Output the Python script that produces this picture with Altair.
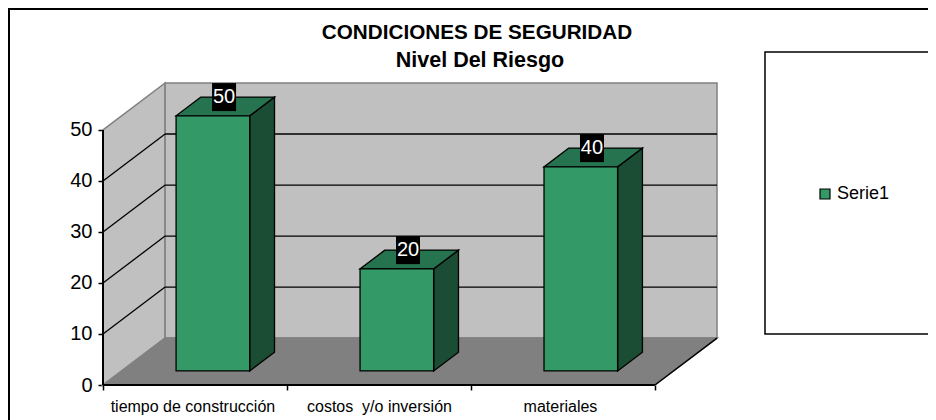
import altair as alt
import pandas as pd

categories = ["tiempo de construcción", "costos \u00a0y/o inversión", "materiales"]
category_label_positions = [0.486, 1.5, 2.484]
values = [50, 20, 40]
y_ticks = [0, 10, 20, 30, 40, 50]
series_name = "Serie1"
title_lines = ["CONDICIONES DE SEGURIDAD", "Nivel Del Riesgo"]

DX, DY = 0.3376, 9.2          # oblique shift of full chart depth, in axis units
GAP_W, BAR_W = 0.296, 0.4     # bar inset, in category widths
D0, D1 = 0.3, 0.7             # bar front and back, in depth fractions
FONT = "Liberation Sans"
FRONT, TOP, SIDE = "#339966", "#267350", "#1A4D33"
WALL, FLOOR, EDGE = "#C0C0C0", "#808080", "#808080"

xs = alt.Scale(domain=[0, 3 + DX], nice=False, zero=False)
ys = alt.Scale(domain=[0, 50 + DY], nice=False, zero=False)

edge_ticks = list(range(len(categories) + 1))
expr = " : ".join(
    f"datum.value == {m} ? '{c}'" for m, c in zip(category_label_positions, categories)) + " : ''"
x_axis = alt.Axis(
    values=sorted(category_label_positions + edge_ticks), labelExpr=expr, domain=False, grid=False,
    title=None, tickColor="black", tickSize=5, tickWidth=1.5, labelFont=FONT, labelFontSize=16,
    labelColor="black", labelPadding=8, labelOverlap=False, labelFlush=False, labelBound=False,
    tickOpacity={"condition": {"test": "datum.value % 1 == 0", "value": 1}, "value": 0})
y_axis = alt.Axis(
    values=y_ticks, domain=False, grid=False, title=None, tickColor="black", tickSize=5,
    tickWidth=1.5, labelFont=FONT, labelFontSize=20, labelColor="black", labelPadding=6,
    labelOverlap=False, labelFlush=False, labelBound=False)


def X(name="x"):
    return alt.X(name, type="quantitative", scale=xs, axis=x_axis)


def Y(name="y"):
    return alt.Y(name, type="quantitative", scale=ys, axis=y_axis)


# walls and floor
left_wall = pd.DataFrame({"x": [0, DX], "y": [0, DY], "y2": [50, 50 + DY]})
back_wall = pd.DataFrame({"x": [DX], "x2": [3 + DX], "y": [DY], "y2": [50 + DY]})
floor = pd.DataFrame({"y": [0, DY], "x": [0, DX], "x2": [3, 3 + DX]})

l_wall = alt.Chart(left_wall).mark_area(fill=WALL, stroke=EDGE, strokeWidth=1.5).encode(
    x=X(), y=Y(), y2="y2")
b_wall = alt.Chart(back_wall).mark_rect(fill=WALL, stroke=EDGE, strokeWidth=1.5).encode(
    x=X(), x2="x2", y=Y(), y2="y2")
fl = alt.Chart(floor).mark_area(orient="horizontal", fill=FLOOR, stroke=EDGE, strokeWidth=1.5).encode(
    x=X(), x2="x2", y=Y())

# gridlines on back and left wall
grid_back = pd.DataFrame([{"x": DX, "x2": 3 + DX, "y": t + DY} for t in y_ticks[1:-1]])
g_back = alt.Chart(grid_back).mark_rule(color="black", strokeWidth=1.3).encode(
    x=X(), x2="x2", y=Y())
grid_left = pd.DataFrame(
    [{"t": t, "x": d * DX, "y": t + d * DY} for t in y_ticks[1:-1] for d in (0, 1)])
g_left = alt.Chart(grid_left).mark_line(color="black", strokeWidth=1.3).encode(
    x=X(), y=Y(), detail="t:N")

# front edges of the floor
right_edge = pd.DataFrame({"x": [3, 3 + DX], "y": [0, DY]})
r_edge = alt.Chart(right_edge).mark_line(color="black", strokeWidth=1.5).encode(x=X(), y=Y())
base_rule = alt.Chart(pd.DataFrame({"x": [0], "x2": [3], "y": [0]})).mark_rule(
    color="black", strokeWidth=2).encode(x=X(), x2="x2", y=Y())
axis_rule = alt.Chart(pd.DataFrame({"x": [0], "y": [0], "y2": [50]})).mark_rule(
    color="black", strokeWidth=2).encode(x=X(), y=Y(), y2="y2")

# bars
front_rows, side_rows, top_rows, label_rows = [], [], [], []
for i, (c, v) in enumerate(zip(categories, values)):
    x0, x1 = i + GAP_W, i + GAP_W + BAR_W
    front_rows.append({"series": series_name, "x": x0 + D0 * DX, "x2": x1 + D0 * DX,
                       "y": D0 * DY, "y2": v + D0 * DY})
    for d in (D0, D1):
        side_rows.append({"bar": c, "x": x1 + d * DX, "y": d * DY, "y2": v + d * DY})
        top_rows.append({"bar": c, "x": x0 + d * DX, "x2": x1 + d * DX, "y": v + d * DY})
    label_rows.append({"x": (x0 + x1) / 2 + 0.48 * DX, "y": v + D1 * DY, "value": v})

side = alt.Chart(pd.DataFrame(side_rows)).mark_area(
    fill=SIDE, stroke="black", strokeWidth=1.3).encode(x=X(), y=Y(), y2="y2", detail="bar:N")
top = alt.Chart(pd.DataFrame(top_rows)).mark_area(
    orient="horizontal", fill=TOP, stroke="black", strokeWidth=1.3).encode(
    x=X(), x2="x2", y=Y(), detail="bar:N")
front = alt.Chart(pd.DataFrame(front_rows)).mark_rect(stroke="black", strokeWidth=1.3).encode(
    x=X(), x2="x2", y=Y(), y2="y2",
    color=alt.Color(
        "series:N",
        scale=alt.Scale(domain=[series_name], range=[FRONT]),
        legend=alt.Legend(orient="none", legendX=713, legendY=102, title=None,
                          symbolType="square", symbolSize=100, symbolStrokeColor="black",
                          symbolStrokeWidth=1.2, symbolOpacity=1, labelFont=FONT,
                          labelFontSize=18, labelColor="black", labelOffset=3),
    ),
)

labels = pd.DataFrame(label_rows)
label_bg = alt.Chart(labels).mark_rect(color="black", width=24, height=28).encode(x=X(), y=Y())
label_tx = alt.Chart(labels).mark_text(
    color="white", font=FONT, fontSize=20, align="center", baseline="middle").encode(
    x=X(), y=Y(), text="value:Q")

# titles, chart frame and legend box, placed in pixels around the plot area
one = pd.DataFrame({"a": [0]})
title_1 = alt.Chart(pd.DataFrame({"t": [title_lines[0]]})).mark_text(
    font=FONT, fontSize=20.7, fontWeight="bold", color="black", align="center", baseline="middle"
).encode(x=alt.value(374), y=alt.value(-50), text="t:N")
title_2 = alt.Chart(pd.DataFrame({"t": [title_lines[1]]})).mark_text(
    font=FONT, fontSize=21.5, fontWeight="bold", color="black", align="center", baseline="middle"
).encode(x=alt.value(377), y=alt.value(-22), text="t:N")
frame_top = alt.Chart(one).mark_rule(color="black", strokeWidth=2).encode(
    x=alt.value(-95), x2=alt.value(825), y=alt.value(-74))
frame_left = alt.Chart(one).mark_rule(color="black", strokeWidth=2).encode(
    x=alt.value(-94), y=alt.value(-75), y2=alt.value(337))
legend_box = alt.Chart(one).mark_rect(
    fill="white", stroke="black", strokeWidth=1.5).encode(
    x=alt.value(662), x2=alt.value(840), y=alt.value(-31), y2=alt.value(251))

chart = alt.layer(
    frame_top, frame_left, legend_box, title_1, title_2, l_wall, b_wall, fl, g_back, g_left,
    r_edge, side, top, front, label_bg, label_tx, base_rule, axis_rule,
).properties(
    width=614, height=302,
    background="white",
    padding={"left": 95, "top": 75, "right": 211, "bottom": 35},
    autosize=alt.AutoSizeParams(type="none"),
).configure_view(strokeWidth=0, stroke=None)

chart.save("out.html", embed_options={"renderer": "svg", "actions": False})
